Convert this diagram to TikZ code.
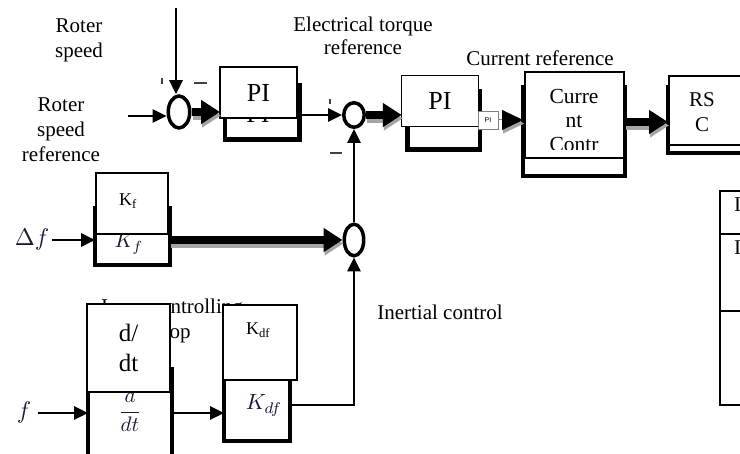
\documentclass[tikz,border=0pt]{standalone}
\usepackage{fontspec}
\setmainfont{Liberation Serif}
\setsansfont{Liberation Sans}
\usetikzlibrary{shapes.geometric,arrows.meta}
\definecolor{mathcol}{RGB}{25,25,60}
\definecolor{shadowgray}{RGB}{165,165,165}
\begin{document}
\begin{tikzpicture}[x=1pt,y=-1pt,
  lab/.style={font=\fontsize{21}{25}\selectfont, align=center, inner sep=0pt},
  boxtxt/.style={font=\fontsize{26}{30}\selectfont, align=center, inner sep=0pt},
  mtxt/.style={font=\normalsize, text=mathcol, inner sep=0pt},
  ktxt/.style={font=\fontsize{18}{22}\selectfont, inner sep=0pt},
  frontbox/.style={draw, line width=1.2pt, fill=white, inner sep=0pt, outer sep=0pt},
  backbox/.style={draw, line width=4pt, fill=white, inner sep=0pt, outer sep=0pt},
  sumj/.style={ellipse, draw, line width=3.5pt, fill=white, inner sep=0pt},
  arr/.style={line width=2.8pt, -{Triangle[length=14pt,width=13pt]}},
  thickarr/.style={line width=8.5pt, -{Triangle[length=19pt,width=23pt]}},
  tick/.style={line width=1.3pt, draw=black!75}
]
\useasboundingbox (0,0) rectangle (740,454);
\clip (0,0) rectangle (740,454);

% ---- labels ----
\node[lab] (rs) at (79,40) {Roter\\speed};
\node[lab] (rsr) at (61,130) {Roter\\speed\\reference};
\node[lab, font=\fontsize{21}{23}\selectfont] (etr) at (363,36) {Electrical torque\\reference};
\node[lab] (cr) at (540,58) {Current reference};
\node[lab] (ic) at (440,312) {Inertial control};
\node[lab] (icl) at (172,321) {Inner controlling\\loop};

% ---- summing junctions ----
\node[sumj, minimum width=21.5pt, minimum height=32pt] (e1) at (179,112) {};
\node[sumj, minimum width=20.5pt, minimum height=24.5pt] (e2) at (354,115) {};
\node[sumj, minimum width=19.5pt, minimum height=31.5pt] (e3) at (354,240) {};

% ---- PI 1 ----
\node[backbox, line width=4.5pt, minimum width=74.5pt, minimum height=54.5pt] (pi1b) at (262.25,112.25) {};
\node[boxtxt] (pi1bt) at (258,114) {PI};
\node[frontbox, minimum width=77pt, minimum height=51pt, boxtxt] (pi1f) at (258.5,92.5) {PI};

% ---- PI 2 ----
\node[backbox, line width=4.5pt, minimum width=72.5pt, minimum height=58.5pt] (pi2b) at (443.75,120.25) {};
\node[frontbox, minimum width=76.5pt, minimum height=51.5pt, boxtxt] (pi2f) at (440,101) {PI};
\node[draw=gray, line width=0.8pt, fill=white, minimum width=20pt, minimum height=18pt, inner sep=0pt,
      font=\sffamily\fontsize{7}{8}\selectfont] (spi) at (488,120) {PI};

% ---- Current controller ----
\node[backbox, minimum width=102pt, minimum height=89pt] (curb) at (574,131.5) {};
\node[frontbox, minimum width=99pt, minimum height=86pt] (curf) at (574.5,115) {};
\begin{scope}
  \clip (526,73) rectangle (623,150);
  \node[lab, font=\fontsize{21.5}{24}\selectfont] (curt) at (574,120) {Curre\\nt\\Contr};
\end{scope}

% ---- RSC ----
\node[backbox, minimum width=92pt, minimum height=66pt] (rscb) at (714,120) {};
\node[frontbox, minimum width=91pt, minimum height=69pt] (rscf) at (714.5,110.5) {};
\node[lab] (rsct) at (702,112.5) {RS\\C};

% ---- Kf ----
\node[backbox, minimum width=74.5pt, minimum height=57pt] (kfb) at (132.25,236.5) {};
\node[mtxt, anchor=base] (kfbt) at (129,248) {\scalebox{2.1}{$K_f$}};
\node[frontbox, minimum width=72pt, minimum height=61pt] (kff) at (132,203.5) {};
\node[ktxt] (kft) at (128,201) {K\textsubscript{f}};

% ---- d/dt ----
\node[backbox, minimum width=84pt, minimum height=101pt] (ddtb) at (130,419.5) {};
\node[mtxt] (ddtbt) at (130,410) {\scalebox{2.1}{$\displaystyle\frac{d}{dt}$}};
\node[frontbox, minimum width=83pt, minimum height=88pt, font=\fontsize{25}{30}\selectfont, align=center] (ddtf) at (128.5,348) {d/\\dt};

% ---- Kdf ----
\node[backbox, minimum width=66pt, minimum height=72pt] (kdfb) at (257,405) {};
\node[mtxt, anchor=base] (kdfbt) at (264,410) {\scalebox{2.2}{$K_{df}$}};
\node[frontbox, minimum width=74pt, minimum height=75pt] (kdff) at (260,342.5) {};
\node[ktxt] (kdft) at (258,330) {K\textsubscript{df}};

% ---- inputs ----
\node[mtxt] (df) at (32,240) {\scalebox{2.4}{$\Delta f$}};
\node[mtxt] (f) at (24,413) {\scalebox{2.4}{$f$}};
\coordinate (topin) at (176,8);
\coordinate (rsin) at (128,116);
\coordinate (y3) at (600,122);

% ---- shadows of thick arrows ----
\begin{scope}[transform canvas={shift={(1pt,-3.5pt)}}]
  \draw[thickarr, draw=shadowgray, fill=shadowgray] (e1.east) -- (e1.east -| pi1f.west);
  \draw[thickarr, draw=shadowgray, fill=shadowgray] (e2.east) -- (e2.east -| pi2f.west);
  \draw[thickarr, draw=shadowgray, fill=shadowgray] (curb.east |- y3) -- (rscb.west |- y3);
  \draw[thickarr, draw=shadowgray, fill=shadowgray] (kfb.east |- e3.west) -- (e3.west);
  \draw[line width=0.1pt, draw=shadowgray, -{Triangle[length=21pt,width=20pt]}, shorten <=4pt] (spi.east) -- (spi.east -| curb.west);
\end{scope}

% ---- connectors ----
\draw[arr] (topin) -- (topin |- e1.north);
\draw[arr] (rsin) -- (rsin -| e1.west);
\draw[thickarr] (e1.east) -- (e1.east -| pi1f.west);
\draw[arr] (pi1b.east |- e2.west) -- (e2.west);
\draw[thickarr] (e2.east) -- (e2.east -| pi2f.west);
\draw[line width=1pt, draw=gray, -{Triangle[length=21pt,width=20pt,color=black]}] (spi.east) -- (spi.east -| curb.west);
\draw[thickarr] (curb.east |- y3) -- (rscb.west |- y3);
\draw[arr, shorten <=3pt] (df.east) -- (df.east -| kfb.west);
\draw[thickarr] (kfb.east |- e3.west) -- (e3.west);
\draw[arr] (e3.north) -- (e2.south);
\draw[arr, shorten <=7pt] (f.east) -- (f.east -| ddtb.west);
\draw[arr] (ddtb.east |- f.east) -- (kdfb.west |- f.east);
\draw[arr] (kdfb.east) -| (e3.south);

% ---- sign ticks ----
\draw[tick] (162,78) -- (162,84);
\draw[tick] (194,83) -- (207,83);
\draw[tick] (330,99) -- (330,104);
\draw[tick] (330,153) -- (342,153);

% ---- partial table at right ----
\draw[line width=2pt] (745,191) -| (720,405) -- (745,405);
\draw[line width=2pt] (720,234) -- (745,234);
\draw[line width=2pt] (720,311) -- (745,311);
\node[lab, anchor=base west] (t1) at (734,212) {I};
\node[lab, anchor=base west] (t2) at (734,255) {I};
\end{tikzpicture}
\end{document}
